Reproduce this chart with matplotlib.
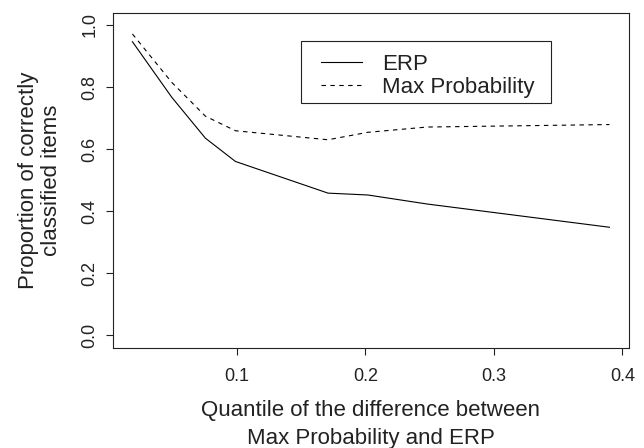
import numpy as np
import matplotlib
matplotlib.use("Agg")
import matplotlib.pyplot as plt
from matplotlib.patches import Rectangle

plt.rcParams['font.family'] = ['Liberation Sans', 'DejaVu Sans']

quantile = [0.0188, 0.0494, 0.0756, 0.099, 0.171, 0.202, 0.248, 0.390]
erp = [0.946, 0.767, 0.635, 0.560, 0.458, 0.452, 0.423, 0.348]
max_prob = [0.971, 0.815, 0.706, 0.659, 0.630, 0.654, 0.671, 0.679]

fig = plt.figure(figsize=(6.44, 4.48), dpi=100)
ax = fig.add_axes([0.176, 0.224, 0.800, 0.748])

ax.plot(quantile, erp, color='black', lw=0.8, label='ERP')
ax.plot(quantile, max_prob, color='black', lw=0.8, linestyle=(0, (4, 4)),
        label='Max Probability')

# R style padding (4% each side)
span = max(quantile) - min(quantile)
ax.set_xlim(min(quantile) - 0.04 * span, max(quantile) + 0.04 * span)
ax.set_ylim(-0.04, 1.04)

ax.set_xticks([0.1, 0.2, 0.3, 0.4])
ax.set_xticklabels(['0.1', '0.2', '0.3', '0.4'])
ax.set_yticks([0.0, 0.2, 0.4, 0.6, 0.8, 1.0])
ax.set_yticklabels(['0.0', '0.2', '0.4', '0.6', '0.8', '1.0'], rotation=90, va='center')

ax.tick_params(axis='both', direction='out', length=5.3, width=0.8,
               labelsize=13, colors='#222222')
ax.tick_params(axis='x', pad=9)
ax.tick_params(axis='y', pad=5.5)
for s in ax.spines.values():
    s.set_linewidth(0.8)
    s.set_color('#222222')

ax.set_xlabel('Quantile of the difference between\nMax Probability and ERP',
              fontsize=16, linespacing=1.42, labelpad=11, color='#222222')
ax.set_ylabel('Proportion of correctly\nclassified items',
              fontsize=16, linespacing=1.12, labelpad=14, color='#222222')

# legend box drawn R-style
ax.add_patch(Rectangle((0.364, 0.731), 0.485, 0.185, transform=ax.transAxes,
                       fill=False, edgecolor='#222222', lw=0.8, zorder=5))
leg = ax.legend(loc='upper left', bbox_to_anchor=(0.403, 0.877), fontsize=16,
                frameon=False, handlelength=1.85, handletextpad=0.9,
                labelspacing=0.08, borderpad=0, borderaxespad=0)
for t in leg.get_texts():
    t.set_color('#222222')

fig.savefig('out.png', dpi=100)
